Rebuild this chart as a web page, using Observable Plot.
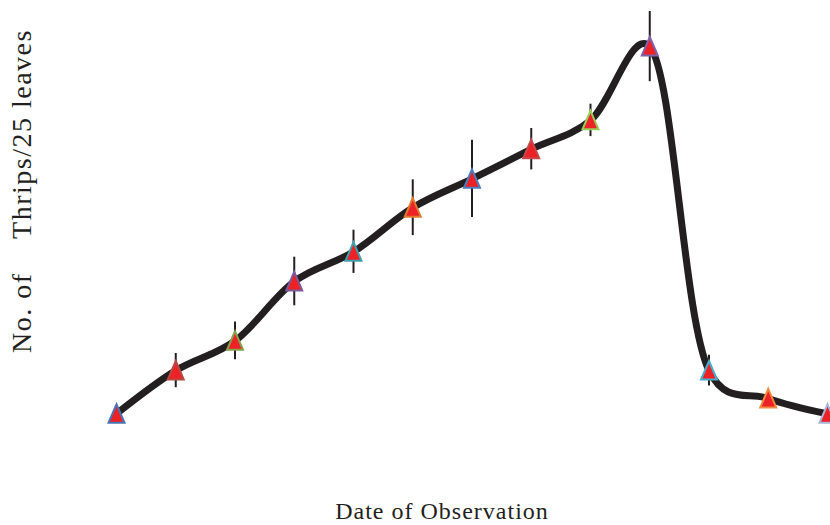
<!DOCTYPE html>
<html>
<head>
<meta charset="utf-8">
<script src="https://cdn.jsdelivr.net/npm/d3@7"></script>
<script src="https://cdn.jsdelivr.net/npm/@observablehq/plot@0.6"></script>
<style>
  html, body { margin: 0; padding: 0; background: #fff; }
  #chart { position: relative; width: 830px; height: 525px; overflow: hidden; }
  .lbl { position: absolute; font-family: "Liberation Serif", "Times New Roman", serif; color: #231f20; white-space: pre; line-height: 1; }
</style>
</head>
<body>
<div id="chart"></div>
<script>
// Observation number (dates are not labelled on the chart)
const observations = [1, 2, 3, 4, 5, 6, 7, 8, 9, 10, 11, 12, 13];
// Mean number of thrips per 25 leaves (arbitrary units)
const thrips = [6.3, 11.1, 14.4, 21.0, 24.3, 29.2, 32.4, 35.7, 38.9, 47.1, 11.1, 8.0, 6.3];
// Error (± half-length of error bar)
const errors = [0, 1.9, 2.1, 2.7, 2.4, 3.1, 4.3, 2.3, 1.8, 3.9, 1.7, 0, 0];
// Marker outline colours
const markerStrokes = ["#4a74b0", "#b84a45", "#87a04a", "#7a5a9a", "#3fa0b0", "#e07a30", "#4a7ec0",
                       "#c44a4a", "#9ccc5a", "#7f62a8", "#4aaccc", "#f08a40", "#a8b4d8"];
const xLabel = "Date of Observation";
const yLabel = "No. of    Thrips/25 leaves";

const data = observations.map((o, i) => ({obs: o, value: thrips[i], err: errors[i], stroke: markerStrokes[i]}));

const triangle = {
  draw(context, size) {
    const r = Math.sqrt(size / Math.PI);
    context.moveTo(0, -1.2 * r);
    context.lineTo(r, 1.12 * r);
    context.lineTo(-r, 1.12 * r);
    context.closePath();
  }
};

const chart = Plot.plot({
  width: 830,
  height: 525,
  marginLeft: 116,
  marginRight: 3,
  marginTop: 20,
  marginBottom: 55,
  x: {domain: [1, 13], axis: null},
  y: {domain: [0, 50], axis: null},
  color: {type: "identity"},
  marks: [
    Plot.line(data, {x: "obs", y: "value", curve: d3.curveCatmullRom.alpha(0.25), stroke: "#231f20", strokeWidth: 7}),
    Plot.ruleX(data.filter(d => d.err > 0), {x: "obs", y1: d => d.value - d.err, y2: d => d.value + d.err, stroke: "#231f20", strokeWidth: 2}),
    Plot.dot(data, {x: "obs", y: "value", symbol: triangle, r: 8, fill: "#ec2227", stroke: "stroke", strokeWidth: 2})
  ]
});

const root = document.getElementById("chart");
root.appendChild(chart);

const xl = document.createElement("div");
xl.className = "lbl";
xl.textContent = xLabel;
xl.style.fontSize = "24px";
xl.style.letterSpacing = "1px";
xl.style.left = "442px";
xl.style.top = "499px";
xl.style.transform = "translateX(-50%)";
root.appendChild(xl);

const yl = document.createElement("div");
yl.className = "lbl";
yl.textContent = yLabel;
yl.style.fontSize = "28px";
yl.style.letterSpacing = "1.5px";
yl.style.left = "8px";
yl.style.top = "191px";
yl.style.transformOrigin = "0 0";
yl.style.transform = "rotate(-90deg) translateX(-50%)";
root.appendChild(yl);
</script>
</body>
</html>
